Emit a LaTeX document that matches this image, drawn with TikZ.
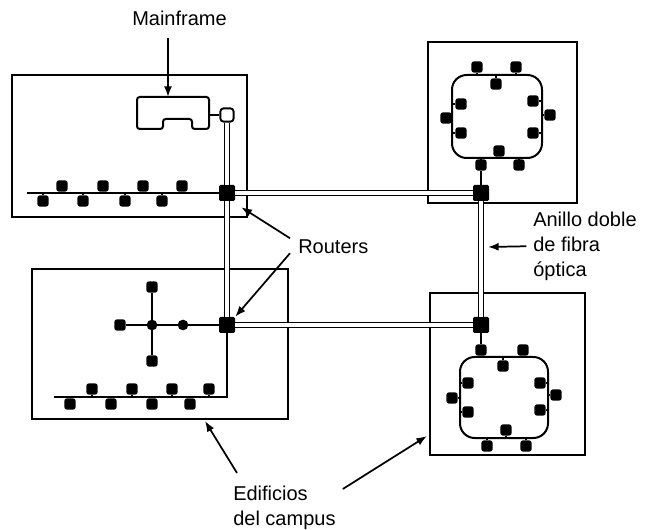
\documentclass[tikz,border=0pt]{standalone}
\usepackage{fontspec}
\setmainfont{Liberation Sans}
\usetikzlibrary{arrows.meta}
\tikzset{
  building/.style={line width=1.5pt},
  wire/.style={line width=1.5pt},
  fiber/.style={double, double distance=2.4pt, line width=1.3pt},
  router/.style={fill, rounded corners=1pt, minimum size=12pt, inner sep=0pt},
  term/.style={fill, rounded corners=2pt, minimum size=8.5pt, inner sep=0pt},
  hub/.style={circle, fill, minimum size=8pt, inner sep=0pt},
  ring/.style={draw, line width=1.5pt, rounded corners=11pt, inner sep=0pt},
  lbl/.style={inner sep=0pt, font=\fontsize{15}{18.5}\selectfont, align=left},
  arr/.style={line width=1.3pt, -{Latex[length=8pt, width=6pt]}}
}
\begin{document}
\begin{tikzpicture}[x=0.75pt, y=-0.75pt]
  \useasboundingbox (0,0) rectangle (649,530);

  % edificios
  \draw[building] (12,75) rectangle (247,217);
  \draw[building] (32,269) rectangle (288,419);
  \draw[building] (428,42) rectangle (577,203);
  \draw[building] (430,293) rectangle (585,455);

  % routers
  \node[router] (r1) at (227,193) {};
  \node[router] (r2) at (227,325) {};
  \node[router] (r3) at (481,193) {};
  \node[router] (r4) at (481,325) {};
  \node[draw, fill=white, line width=1.4pt, rounded corners=2.5pt, minimum size=10pt, inner sep=0pt] (sq) at (227,115) {};

  \draw[fiber] (sq) -- (r1);
  \draw[fiber] (r1) -- (r2);
  \draw[fiber] (r1) -- (r3);
  \draw[fiber] (r2) -- (r4);
  \draw[fiber] (r3) -- (r4);

  % mainframe
  \draw[wire, rounded corners=2pt] (137,97) -- (209,97) -- (209,129) -- (192,129) -- (192,119)
    -- (163,119) -- (163,129) -- (137,129) -- cycle;
  \coordinate (mftop) at (168,97);
  \coordinate (mfE) at (209,115);
  \draw[wire] (mfE) -- (sq);

  % bus edificio 1
  \coordinate (busA) at (27,193);
  \draw[wire] (busA) -- (r1);
  \foreach \x [count=\i] in {62,103,143,182} {
    \node[term] (au\i) at (\x,186) {};
    \draw[wire] (au\i) -- (au\i |- r1);
  }
  \foreach \x [count=\i] in {43,83,125,162} {
    \node[term] (ad\i) at (\x,201) {};
    \draw[wire] (ad\i) -- (ad\i |- r1);
  }

  % estrella edificio 2
  \node[term] (sl) at (120,325) {};
  \node[hub] (sh) at (152,325) {};
  \node[hub] (sr) at (183,325) {};
  \node[term] (st) at (152,287) {};
  \node[term] (sb) at (152,361) {};
  \draw[wire] (sl) -- (r2);
  \draw[wire] (st) -- (sb);

  % bus edificio 2
  \coordinate (busB) at (54,397);
  \draw[wire] (busB) -| (r2);
  \foreach \x [count=\i] in {92,132,172,209} {
    \node[term] (bu\i) at (\x,389) {};
    \draw[wire] (bu\i) -- (bu\i |- busB);
  }
  \foreach \x [count=\i] in {70,111,152,190} {
    \node[term] (bd\i) at (\x,404) {};
    \draw[wire] (bd\i) -- (bd\i |- busB);
  }

  % anillo edificio 3
  \node[ring, minimum width=67.5pt, minimum height=62.25pt] (ringC) at (497,116.5) {};
  \foreach \n/\x/\y/\s in {c1/477/67/north, c2/516/67/north, c3/496/84/north,
      c4/499/151/south, c5/481/165/south, c6/519/165/south} {
    \node[term] (\n) at (\x,\y) {};
    \draw[wire] (\n) -- (\n |- ringC.\s);
  }
  \foreach \n/\x/\y/\s in {c7/461/104/west, c8/461/133/west, c9/446/118/west,
      c10/533/101/east, c11/533/133/east, c12/550/115/east} {
    \node[term] (\n) at (\x,\y) {};
    \draw[wire] (\n) -- (\n -| ringC.\s);
  }
  \draw[wire] (r3) -- (c5);

  % anillo edificio 4
  \node[ring, minimum width=66pt, minimum height=60.75pt] (ringD) at (504,397.5) {};
  \foreach \n/\x/\y/\s in {d1/481/350/north, d2/523/350/north, d3/503/366/north,
      d4/506/430/south, d5/487/446/south, d6/526/446/south} {
    \node[term] (\n) at (\x,\y) {};
    \draw[wire] (\n) -- (\n |- ringD.\s);
  }
  \foreach \n/\x/\y/\s in {d7/468/383/west, d8/468/412/west, d9/452/398/west,
      d10/540/383/east, d11/540/410/east, d12/556/395/east} {
    \node[term] (\n) at (\x,\y) {};
    \draw[wire] (\n) -- (\n -| ringD.\s);
  }
  \draw[wire] (r4) -- (d1);

  % textos
  \node[lbl, anchor=north west] (mflbl) at (132,11) {Mainframe};
  \node[lbl, anchor=north west] (rtlbl) at (298,239) {Routers};
  \node[lbl, anchor=north west] (fiblbl) at (533,212) {Anillo doble\\de fibra\\óptica};
  \node[lbl, anchor=north west] (edlbl) at (233,486) {Edificios\\del campus};

  \coordinate (fibtip) at (488,247);
  \coordinate (bBtip) at (205,421);
  \coordinate (bDtip) at (427,436);

  \draw[arr] ([yshift=-9pt]mftop |- mflbl.south) -- (mftop);
  \draw[arr] ([shift={(-8,-8)}]rtlbl.west) -- ([shift={(6,6)}]r1.south east);
  \draw[arr] ([shift={(-8,7)}]rtlbl.west) -- (r2.north east);
  \draw[arr] ([xshift=-5pt]fiblbl.west) -- (fibtip);
  \draw[arr] ([shift={(4,-13)}]edlbl.north west) -- (bBtip);
  \draw[arr] ([shift={(7,3)}]edlbl.north east) -- (bDtip);
\end{tikzpicture}
\end{document}
